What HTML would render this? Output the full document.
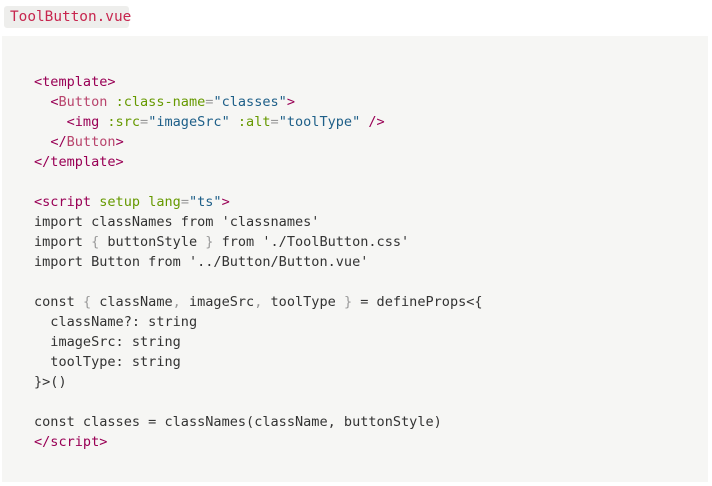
<!DOCTYPE html>
<html><head><meta charset="utf-8"><style>
html,body{margin:0;padding:0;background:#fff;width:712px;height:486px;overflow:hidden}
.lbl{position:absolute;left:4px;top:6px;width:125px;height:22px;background:#eeeeec;border-radius:3px;
font:14.4px/22px "DejaVu Sans Mono",monospace;color:#c7254e;text-indent:6px;white-space:pre}
.box{position:absolute;left:2px;top:36px;width:706px;height:446px;background:#f6f6f4}
pre{position:absolute;left:34px;top:72px;margin:0;font:13.55px/20px "DejaVu Sans Mono",monospace;color:#333}
.t{color:#905}.n{color:#b8446c}.a{color:#690}.s{color:#1e5f88}.p{color:#999}
</style></head><body>
<div class="lbl">ToolButton.vue</div>
<div class="box"></div>
<pre><span class="t">&lt;template&gt;</span>
  <span class="t">&lt;</span><span class="n">Button</span> <span class="a">:class-name</span><span class="p">=</span><span class="s">"classes"</span><span class="t">&gt;</span>
    <span class="t">&lt;img</span> <span class="a">:src</span><span class="p">=</span><span class="s">"imageSrc"</span> <span class="a">:alt</span><span class="p">=</span><span class="s">"toolType"</span> <span class="t">/&gt;</span>
  <span class="t">&lt;/</span><span class="n">Button</span><span class="t">&gt;</span>
<span class="t">&lt;/template&gt;</span>

<span class="t">&lt;script</span> <span class="a">setup</span> <span class="a">lang</span><span class="p">=</span><span class="s">"ts"</span><span class="t">&gt;</span>
import classNames from 'classnames'
import <span class="p">{</span> buttonStyle <span class="p">}</span> from './ToolButton.css'
import Button from '../Button/Button.vue'

const <span class="p">{</span> className<span class="p">,</span> imageSrc<span class="p">,</span> toolType <span class="p">}</span> = defineProps&lt;{
  className?: string
  imageSrc: string
  toolType: string
}&gt;()

const classes = classNames(className, buttonStyle)
<span class="t">&lt;/script&gt;</span></pre>
</body></html>
